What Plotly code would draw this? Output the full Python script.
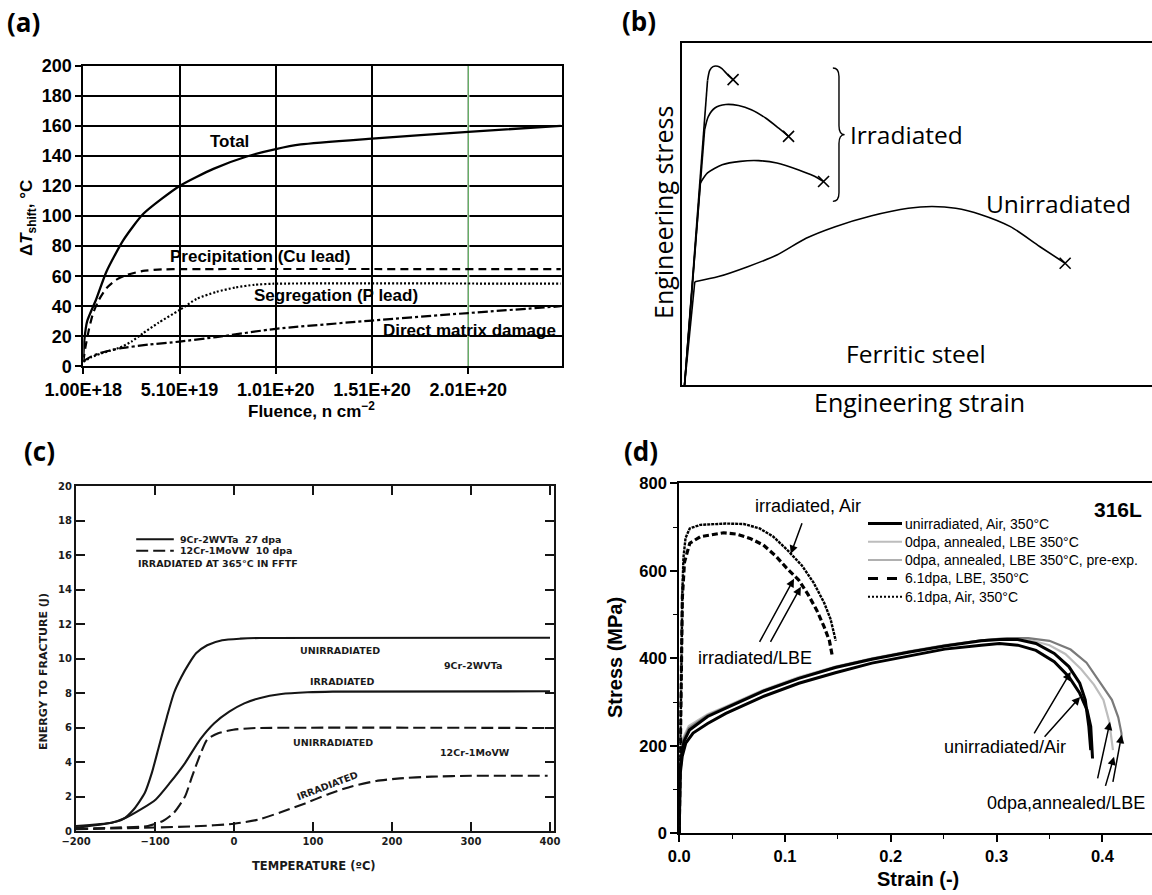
import numpy as np
import plotly.graph_objects as go

W, H = 1152, 895


def px(x):
    return x / W


def py(y):
    return 1 - y / H


# ---------------- (a) shift of transition temperature vs fluence ----------------
a_total_x = [1.0e18, 1.5e18, 3.0e18, 7.5e18, 1.3e19, 2.18e19, 3.22e19, 5.1e19, 6.86e19,
             8.59e19, 1.01e20, 1.14e20, 1.51e20, 2.01e20, 2.49e20]
a_total_y = [6, 17, 30, 44, 63, 84, 101.5, 120, 131.4, 139.6, 144.5, 147.6, 151.5, 156, 160]
a_precip_x = [1.0e18, 2.0e18, 4.0e18, 6.0e18, 9.0e18, 1.3e19, 1.8e19, 2.4e19, 3.2e19,
              4.2e19, 5.1e19, 2.49e20]
a_precip_y = [3, 12, 25, 35, 44, 52, 57.5, 61, 63.5, 64.5, 64.7, 64.7]
a_segreg_x = [1.0e18, 5.0e18, 1.0e19, 1.5e19, 2.0e19, 2.6e19, 3.2e19, 4.0e19, 5.1e19,
              6.0e19, 7.0e19, 8.0e19, 9.0e19, 1.0e20, 2.49e20]
a_segreg_y = [3, 6, 8.5, 10.5, 12.5, 16.5, 22, 29, 37.5, 45, 49.5, 52.5, 54.3, 55, 55]
a_matrix_x = [1.0e18, 5.0e18, 1.0e19, 2.0e19, 3.5e19, 5.1e19, 7.0e19, 1.01e20, 1.51e20,
              2.01e20, 2.49e20]
a_matrix_y = [3.5, 6.5, 9, 12, 14.5, 16.5, 19.5, 25, 30.5, 35.5, 40]
a_tick_vals = [1.0e18, 5.1e19, 1.01e20, 1.51e20, 2.01e20]
a_tick_text = ["1.00E+18", "5.10E+19", "1.01E+20", "1.51E+20", "2.01E+20"]
a_x_min, a_x_max = 1.0e18, 2.4946e20

# ---------------- (b) schematic engineering stress-strain curves ----------------
b_origin = (0.54, 0.0)
b_irr1_x = [5.43, 5.9, 6.6, 7.6, 8.5, 9.4, 10.1, 10.87]
b_irr1_y = [89.0, 92.0, 93.1, 93.2, 92.5, 91.2, 90.2, 89.3]
b_irr2_x = [4.81, 5.59, 6.99, 9.32, 12.03, 14.75, 17.86, 20.57, 22.67]
b_irr2_y = [74.6, 78.5, 81.0, 82.0, 81.7, 80.5, 78.0, 75.1, 72.7]
b_irr3_x = [3.88, 5.43, 8.54, 12.42, 16.30, 20.19, 24.84, 27.95, 30.12]
b_irr3_y = [59.0, 62.0, 64.4, 65.4, 65.6, 64.9, 62.9, 61.2, 59.5]
b_unirr_x = [2.72, 7.76, 13.98, 20.19, 26.4, 32.6, 40.37, 48.14, 53.18, 58.23, 63.66,
             69.88, 76.09, 81.52]
b_unirr_y = [30.2, 31.7, 34.6, 38.0, 42.9, 46.3, 49.5, 51.7, 52.2, 51.7, 49.8, 46.3,
             40.5, 35.6]

# ---------------- (c) energy to fracture vs test temperature ----------------
c_t_9cr_unirr = [-200, -155, -141, -127, -113, -104, -95, -85, -76, -67, -57, -48, -34,
                 -15, 8, 32, 400]
c_e_9cr_unirr = [0.29, 0.48, 0.67, 1.25, 2.2, 3.37, 4.9, 6.6, 8.0, 8.9, 9.7, 10.3, 10.77,
                 11.06, 11.15, 11.19, 11.2]
c_t_9cr_irr = [-200, -155, -137, -118, -99, -81, -62, -43, -25, -6, 13, 32, 60, 93, 125, 400]
c_e_9cr_irr = [0.19, 0.48, 0.77, 1.25, 1.83, 2.8, 3.94, 5.3, 6.25, 6.92, 7.4, 7.7, 7.94,
               8.04, 8.08, 8.1]
c_t_12cr_unirr = [-200, -155, -109, -90, -76, -62, -53, -43, -34, -20, -1, 22, 400]
c_e_12cr_unirr = [0.13, 0.19, 0.29, 0.58, 1.06, 2.0, 3.17, 4.4, 5.3, 5.67, 5.87, 5.96, 5.97]
c_t_12cr_irr = [-200, -100, -50, 0, 30, 60, 90, 120, 150, 180, 210, 250, 300, 397]
c_e_12cr_irr = [0.1, 0.2, 0.27, 0.42, 0.65, 1.1, 1.6, 2.15, 2.6, 2.9, 3.05, 3.15, 3.2, 3.2]
c_x_ticks = [-200, -100, 0, 100, 200, 300, 400]
c_y_ticks = [0, 2, 4, 6, 8, 10, 12, 14, 16, 18, 20]

# ---------------- (d) 316L tensile curves at 350 °C ----------------
d_unirr_a_strain = [0, 0.001, 0.0028, 0.0062, 0.0131, 0.0269, 0.0441, 0.0786, 0.1131, 0.1476,
                    0.1821, 0.2166, 0.251, 0.2855, 0.3028, 0.32, 0.3372, 0.3545, 0.3683,
                    0.3786, 0.3855, 0.389, 0.3907]
d_unirr_a_stress = [0, 137, 175, 206, 229, 251, 274, 312, 343, 367, 389, 405, 421, 430, 434,
                    430, 418, 392, 358, 320, 282, 244, 171]
d_unirr_b_strain = [0, 0.0007, 0.0021, 0.0045, 0.0097, 0.0269, 0.0441, 0.0786, 0.1131, 0.1476,
                    0.1821, 0.2166, 0.251, 0.2855, 0.3028, 0.32, 0.3372, 0.3545, 0.3683,
                    0.3786, 0.3838, 0.3872, 0.389]
d_unirr_b_stress = [0, 137, 175, 210, 236, 267, 286, 324, 354, 379, 398, 414, 428, 440, 443,
                    443, 434, 411, 381, 343, 305, 244, 190]
d_ann_strain = [0, 0.0007, 0.002, 0.004, 0.009, 0.0269, 0.0441, 0.0786, 0.1131, 0.1476, 0.1821,
                0.2166, 0.251, 0.2855, 0.31, 0.33, 0.35, 0.365, 0.38, 0.392, 0.401, 0.4065, 0.41]
d_ann_stress = [0, 140, 185, 220, 245, 272, 290, 327, 357, 381, 400, 416, 430, 441, 445, 443,
                430, 410, 375, 340, 305, 255, 190]
d_pre_strain = [0, 0.0007, 0.002, 0.004, 0.009, 0.0269, 0.0441, 0.0786, 0.1131, 0.1476, 0.1821,
                0.2166, 0.251, 0.2855, 0.31, 0.33, 0.35, 0.37, 0.385, 0.398, 0.409, 0.415,
                0.418, 0.4185]
d_pre_stress = [0, 138, 180, 215, 240, 270, 288, 325, 355, 380, 399, 415, 429, 441, 446, 446,
                440, 420, 390, 345, 305, 265, 229, 205]
d_lbe_strain = [0, 0.001, 0.002, 0.003, 0.005, 0.01, 0.02, 0.042, 0.054, 0.067, 0.0795, 0.092,
                0.1016, 0.113, 0.122, 0.13, 0.137, 0.142, 0.1445]
d_lbe_stress = [0, 200, 400, 540, 620, 663, 678, 687, 684, 674, 659, 632, 606, 579, 545, 510,
                472, 440, 408]
d_air_strain = [0, 0.001, 0.002, 0.003, 0.004, 0.006, 0.01, 0.02, 0.044, 0.061, 0.076, 0.089,
                0.102, 0.116, 0.127, 0.137, 0.143, 0.148]
d_air_stress = [0, 200, 400, 550, 630, 675, 697, 705, 708, 707, 697, 678, 648, 612, 573, 527,
                490, 440]
d_x_ticks = [0.0, 0.1, 0.2, 0.3, 0.4]
d_x_text = ["0.0", "0.1", "0.2", "0.3", "0.4"]
d_legend = [
    ("unirradiated, Air, 350°C", "black", 3, "solid"),
    ("0dpa, annealed, LBE 350°C", "#bdbdbd", 2, "solid"),
    ("0dpa, annealed, LBE 350°C, pre-exp.", "#b0b0b0", 2, "solid"),
    ("6.1dpa, LBE, 350°C", "black", 3, "10px,9px"),
    ("6.1dpa, Air, 350°C", "black", 2, "2px,2px"),
]

ARIAL = "Liberation Sans"
HUMAN = "Open Sans"
LEROY = "DejaVu Sans"
blk = "black"
ink = "#151515"

fig = go.Figure()

# ---- (a) traces ----
fig.add_trace(go.Scatter(x=a_total_x, y=a_total_y, mode="lines", name="Total",
                         line=dict(color=blk, width=2.3, shape="spline", smoothing=0.6),
                         xaxis="x", yaxis="y"))
fig.add_trace(go.Scatter(x=a_precip_x, y=a_precip_y, mode="lines", name="Precipitation",
                         line=dict(color=blk, width=2.2, dash="8px,5px", shape="spline",
                                   smoothing=0.6), xaxis="x", yaxis="y"))
fig.add_trace(go.Scatter(x=a_segreg_x, y=a_segreg_y, mode="lines", name="Segregation",
                         line=dict(color=blk, width=2.2, dash="2px,2px", shape="spline",
                                   smoothing=0.6), xaxis="x", yaxis="y"))
fig.add_trace(go.Scatter(x=a_matrix_x, y=a_matrix_y, mode="lines", name="Direct matrix damage",
                         line=dict(color=blk, width=2.2, dash="10px,3px,3px,3px",
                                   shape="spline", smoothing=0.5), xaxis="x", yaxis="y"))

# ---- (b) traces ----
b_curves = [(b_irr1_x, b_irr1_y), (b_irr2_x, b_irr2_y), (b_irr3_x, b_irr3_y),
            (b_unirr_x, b_unirr_y)]
el_x, el_y = [], []
for cx, cy in b_curves:
    el_x += [b_origin[0], cx[0], None]
    el_y += [b_origin[1], cy[0], None]
fig.add_trace(go.Scatter(x=el_x, y=el_y, mode="lines", name="elastic",
                         line=dict(color=blk, width=1.6), xaxis="x2", yaxis="y2"))
for cx, cy in b_curves:
    fig.add_trace(go.Scatter(x=cx, y=cy, mode="lines",
                             line=dict(color=blk, width=1.6, shape="spline", smoothing=0.7),
                             xaxis="x2", yaxis="y2"))
fig.add_trace(go.Scatter(x=[c[0][-1] for c in b_curves], y=[c[1][-1] for c in b_curves],
                         mode="markers", name="fracture",
                         marker=dict(symbol="x-thin", size=11, color=blk,
                                     line=dict(color=blk, width=1.6)),
                         xaxis="x2", yaxis="y2"))

# ---- (c) traces ----
for tx, ey, nm, dash in [(c_t_9cr_unirr, c_e_9cr_unirr, "9Cr-2WVTa unirradiated", "solid"),
                         (c_t_9cr_irr, c_e_9cr_irr, "9Cr-2WVTa irradiated", "solid"),
                         (c_t_12cr_unirr, c_e_12cr_unirr, "12Cr-1MoVW unirradiated", "12px,5px"),
                         (c_t_12cr_irr, c_e_12cr_irr, "12Cr-1MoVW irradiated", "12px,5px")]:
    fig.add_trace(go.Scatter(x=tx, y=ey, mode="lines", name=nm,
                             line=dict(color=ink, width=2.1, dash=dash, shape="spline",
                                       smoothing=0.6), xaxis="x3", yaxis="y3"))

# ---- (d) traces ----
fig.add_trace(go.Scatter(x=d_ann_strain, y=d_ann_stress, mode="lines", name=d_legend[1][0],
                         line=dict(color=d_legend[1][1], width=2.2), xaxis="x4", yaxis="y4"))
fig.add_trace(go.Scatter(x=d_pre_strain, y=d_pre_stress, mode="lines", name=d_legend[2][0],
                         line=dict(color="#7a7a7a", width=2.2), xaxis="x4", yaxis="y4"))
fig.add_trace(go.Scatter(x=d_unirr_b_strain, y=d_unirr_b_stress, mode="lines",
                         name=d_legend[0][0], line=dict(color=blk, width=3),
                         xaxis="x4", yaxis="y4"))
fig.add_trace(go.Scatter(x=d_unirr_a_strain, y=d_unirr_a_stress, mode="lines",
                         name=d_legend[0][0], line=dict(color=blk, width=3),
                         xaxis="x4", yaxis="y4"))
fig.add_trace(go.Scatter(x=d_lbe_strain, y=d_lbe_stress, mode="lines", name=d_legend[3][0],
                         line=dict(color=blk, width=3.2, dash="6px,3px"),
                         xaxis="x4", yaxis="y4"))
fig.add_trace(go.Scatter(x=d_air_strain, y=d_air_stress, mode="lines", name=d_legend[4][0],
                         line=dict(color=blk, width=2.4, dash="3px,1px"),
                         xaxis="x4", yaxis="y4"))

a_font = dict(family=ARIAL, size=18, color=blk, weight="bold")
d_font = dict(family=ARIAL, size=16.5, color=blk, weight="bold")
c_font = dict(family=LEROY, size=10, color="#1a1a1a", weight="bold")

fig.update_layout(
    width=W, height=H, margin=dict(l=0, r=0, t=0, b=0),
    paper_bgcolor="white", plot_bgcolor="white", showlegend=False,
    xaxis=dict(domain=[px(83.3), px(561.6)], range=[a_x_min, a_x_max],
               tickvals=a_tick_vals, ticktext=a_tick_text, tickfont=a_font,
               showgrid=True, gridcolor=blk, gridwidth=1.6, showline=True, linecolor=blk,
               linewidth=2, mirror=True, ticks="outside", ticklen=6, tickwidth=1.6,
               tickcolor=blk, zeroline=False, anchor="y", automargin=False),
    yaxis=dict(domain=[py(366.4), py(65.7)], range=[0, 200], dtick=20, tickfont=a_font,
               showgrid=True, gridcolor=blk, gridwidth=1.6, showline=True, linecolor=blk,
               linewidth=2, mirror=True, ticks="outside", ticklen=6, tickwidth=1.6,
               tickcolor=blk, zeroline=False, anchor="x", automargin=False),
    xaxis2=dict(domain=[px(682), 1.0], range=[0, 100], showticklabels=False, ticks="",
                showgrid=False, showline=True, linecolor=blk, linewidth=1.6, mirror=True,
                zeroline=False, anchor="y2", automargin=False),
    yaxis2=dict(domain=[py(385), py(43)], range=[0, 100], showticklabels=False, ticks="",
                showgrid=False, showline=True, linecolor=blk, linewidth=1.6, mirror=False,
                zeroline=False, anchor="x2", automargin=False),
    xaxis3=dict(domain=[px(76), px(553.8)], range=[-200, 404.8], tickvals=c_x_ticks,
                tickfont=c_font, showgrid=False, showline=True, linecolor=ink,
                linewidth=2.2, mirror="ticks", ticks="inside", ticklen=9, tickwidth=2,
                tickcolor=ink, zeroline=False, anchor="y3", automargin=False),
    yaxis3=dict(domain=[py(831), py(486)], range=[0, 20], tickvals=c_y_ticks,
                tickfont=c_font, showgrid=False, showline=True, linecolor=ink,
                linewidth=2.2, mirror="ticks", ticks="inside", ticklen=9, tickwidth=2,
                tickcolor=ink, zeroline=False, anchor="x3", automargin=False),
    xaxis4=dict(domain=[px(679.2), 1.0], range=[0, 0.4469], tickvals=d_x_ticks,
                ticktext=d_x_text, tickfont=d_font, showgrid=False, showline=True,
                linecolor=blk, linewidth=2, mirror=True, ticks="outside", ticklen=7,
                tickwidth=1.6, tickcolor=blk,
                minor=dict(tickvals=[0.05, 0.15, 0.25, 0.35], ticks="outside", ticklen=4,
                           tickwidth=1.3, tickcolor=blk, showgrid=False),
                zeroline=False, anchor="y4", automargin=False),
    yaxis4=dict(domain=[py(833.3), py(483.3)], range=[0, 800], dtick=200, tickfont=d_font,
                showgrid=False, showline=True, linecolor=blk, linewidth=2, mirror=False,
                ticks="outside", ticklen=7, tickwidth=1.6, tickcolor=blk,
                minor=dict(dtick=100, ticks="outside", ticklen=4, tickwidth=1.3,
                           tickcolor=blk, showgrid=False),
                zeroline=False, anchor="x4", automargin=False),
)

ann = []
shapes = []


def paper_text(text, x, y, size, family, bold=False, angle=0, xanchor="center", color=blk):
    ann.append(dict(text=text, x=px(x), y=py(y), xref="paper", yref="paper",
                    showarrow=False, textangle=angle, xanchor=xanchor, yanchor="middle",
                    font=dict(family=family, size=size, color=color,
                              weight="bold" if bold else "normal")))


def data_text(text, x, y, axis, size, family, bold=False, angle=0, xanchor="center",
              color=blk):
    ann.append(dict(text=text, x=x, y=y, xref="x" + axis, yref="y" + axis,
                    showarrow=False, textangle=angle, xanchor=xanchor, yanchor="middle",
                    font=dict(family=family, size=size, color=color,
                              weight="bold" if bold else "normal")))


# panel letters
for letter, (lx, ly) in {"(a)": (23, 22), "(b)": (639, 21), "(c)": (39, 451),
                          "(d)": (641, 451)}.items():
    paper_text(letter, lx, ly, 26, HUMAN, bold=True)

# (a) text
paper_text("Δ<i>T</i><sub>shift</sub>, °C", 28, 218, 17, ARIAL, bold=True, angle=-90)
paper_text("Fluence, n cm<sup>−2</sup>", 311, 410, 17, ARIAL, bold=True)
data_text("Total", 7.7e19, 149.6, "", 17, ARIAL, bold=True)
data_text("Precipitation (Cu lead)", 9.28e19, 72.8, "", 17, ARIAL, bold=True)
data_text("Segregation (P lead)", 1.321e20, 46.9, "", 17, ARIAL, bold=True)
data_text("Direct matrix damage", 2.015e20, 24.2, "", 17, ARIAL, bold=True)

# the 2.01E+20 grid line is drawn in green
shapes.append(dict(type="line", xref="x", yref="y", x0=2.01e20, x1=2.01e20, y0=0, y1=200,
                   line=dict(color="white", width=2.2), layer="between"))
shapes.append(dict(type="line", xref="x", yref="y", x0=2.01e20, x1=2.01e20, y0=0, y1=200,
                   line=dict(color="#3f9a3f", width=1), layer="between"))

# (b) text
paper_text("Engineering stress", 663, 213, 25, HUMAN, angle=-90)
paper_text("Engineering strain", 919, 402, 25, HUMAN)
data_text("Irradiated", 35.3, 73.2, "2", 24.5, HUMAN, xanchor="left")
data_text("Unirradiated", 80.0, 53.2, "2", 24.5, HUMAN)
data_text("Ferritic steel", 49.7, 9.3, "2", 24.5, HUMAN)
shapes.append(dict(type="path", xref="x2", yref="y2",
                   path="M 32.1,92.7 Q 33.4,92.7 33.4,90.2 L 33.4,75.8 Q 33.4,73.2 34.6,73.2 "
                        "Q 33.4,73.2 33.4,70.6 L 33.4,56.2 Q 33.4,53.7 32.1,53.7",
                   line=dict(color=blk, width=1.4)))

# (c) text
paper_text("ENERGY TO FRACTURE (J)", 43, 672, 11, LEROY, bold=True, angle=-90, color="#1a1a1a")
paper_text("TEMPERATURE (ºC)", 314, 866, 11.5, LEROY, bold=True, color="#1a1a1a")
c_lbl = dict(size=9.5, family=LEROY, bold=True, color="#1a1a1a")
data_text("UNIRRADIATED", 134.7, 10.44, "3", **c_lbl)
data_text("9Cr-2WVTa", 303, 9.58, "3", **c_lbl)
data_text("IRRADIATED", 137, 8.67, "3", **c_lbl)
data_text("UNIRRADIATED", 125.3, 5.13, "3", **c_lbl)
data_text("12Cr-1MoVW", 305.4, 4.56, "3", **c_lbl)
data_text("IRRADIATED", 118.3, 2.65, "3", angle=-21, **c_lbl)
data_text("9Cr-2WVTa  27 dpa", -71.3, 16.92, "3", xanchor="left", **c_lbl)
data_text("12Cr-1MoVW  10 dpa", -71.3, 16.25, "3", xanchor="left", **c_lbl)
data_text("IRRADIATED AT 365°C IN FFTF", -123.8, 15.48, "3", xanchor="left", **c_lbl)
shapes.append(dict(type="line", xref="x3", yref="y3", x0=-123.8, x1=-76.2, y0=16.92,
                   y1=16.92, line=dict(color=ink, width=2)))
shapes.append(dict(type="line", xref="x3", yref="y3", x0=-123.8, x1=-76.2, y0=16.25,
                   y1=16.25, line=dict(color=ink, width=2, dash="12px,5px")))

# (d) text, legend and arrows
paper_text("Stress (MPa)", 615, 658, 20, ARIAL, bold=True, angle=-90)
paper_text("Strain (-)", 918, 879, 20, ARIAL, bold=True)
paper_text("316L", 1118, 509, 21, ARIAL, bold=True)
for i, (label, col, wid, dash) in enumerate(d_legend):
    ry = 523.5 + i * 18.3
    shapes.append(dict(type="line", xref="paper", yref="paper", x0=px(868), x1=px(902),
                       y0=py(ry), y1=py(ry), line=dict(color=col, width=wid, dash=dash)))
    paper_text(label, 903, ry, 14, ARIAL, xanchor="left")

data_text("irradiated, Air", 0.1217, 747, "4", 18, ARIAL)
data_text("irradiated/LBE", 0.0717, 400, "4", 18, ARIAL)
data_text("unirradiated/Air", 0.308, 197, "4", 18, ARIAL)
data_text("0dpa,annealed/LBE", 0.3653, 69, "4", 18, ARIAL)


def arrow(head_x, head_y, tail_x, tail_y):
    ann.append(dict(x=head_x, y=head_y, ax=tail_x, ay=tail_y, xref="x4", yref="y4",
                    axref="x4", ayref="y4", text="", showarrow=True, arrowhead=2,
                    arrowsize=1.1, arrowwidth=1.5, arrowcolor=blk))


arrow(0.1055, float(np.interp(0.1055, d_air_strain, d_air_stress)), 0.1166, 712)
arrow(0.1085, float(np.interp(0.1085, d_lbe_strain, d_lbe_stress)) - 8, 0.0752, 434)
arrow(0.1150, float(np.interp(0.1150, d_lbe_strain, d_lbe_stress)) - 8, 0.0855, 434)
arrow(0.3700, float(np.interp(0.3700, d_unirr_b_strain, d_unirr_b_stress)) - 6, 0.3347, 225)
arrow(0.3790, float(np.interp(0.3790, d_unirr_a_strain, d_unirr_a_stress)) - 6, 0.3441, 217)
arrow(0.4072, 255, 0.3952, 122)
arrow(0.4110, 175, 0.4025, 105)
arrow(0.4182, 225, 0.4097, 114)

fig.update_layout(annotations=ann, shapes=shapes)
fig.write_html("out.html")
